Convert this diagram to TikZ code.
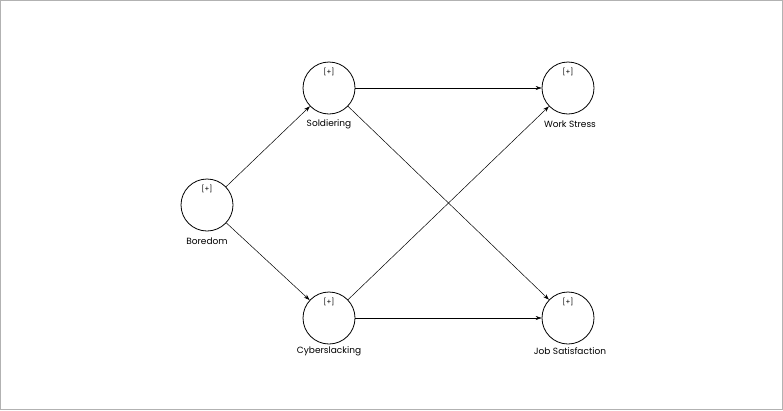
\documentclass[tikz,border=0pt]{standalone}
\usepackage{fontspec}
\setmainfont{Poppins}
\usetikzlibrary{positioning,arrows.meta}
\begin{document}
\begin{tikzpicture}[x=1pt,y=-1pt,
  lv/.style={circle,draw,line width=0.8pt,minimum size=52pt,inner sep=0pt},
  tag/.style={font=\fontsize{7}{8}\selectfont},
  lbl/.style={font=\fontsize{9}{10}\selectfont,fill=white,inner sep=1pt},
  path/.style={-{Stealth[length=6pt,width=4pt]},line width=0.5pt}]
  \draw[gray!60,line width=1pt] (0.5,0.5) rectangle (782.5,409.5);
  % latent variables
  \node[lv] (bor) at (207,205) {};
  \node[lv] (sol) at (329,88) {};
  \node[lv] (cyb) at (329,318) {};
  \node[lv] (ws) at (568,88) {};
  \node[lv] (js) at (568,318) {};
  \foreach \n in {bor,sol,cyb,ws,js}
    \node[tag,below=3pt] at (\n.north) {[+]};
  % paths
  \draw[path] (bor) -- (sol);
  \draw[path] (bor) -- (cyb);
  \draw[path] (sol) -- (ws);
  \draw[path] (sol) -- (js);
  \draw[path] (cyb) -- (ws);
  \draw[path] (cyb) -- (js);
  % labels
  \node[lbl] at (207,241) {Boredom};
  \node[lbl] at (329,124) {Soldiering};
  \node[lbl] at (329,351) {Cyberslacking};
  \node[lbl] at (570,124) {Work Stress};
  \node[lbl] at (570,351) {Job Satisfaction};
\end{tikzpicture}
\end{document}
